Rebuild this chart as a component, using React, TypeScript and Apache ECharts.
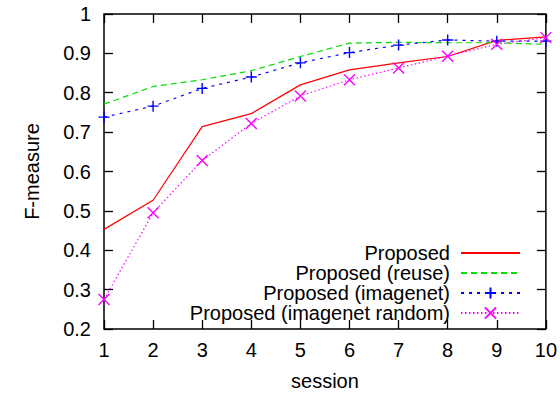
import React, { useEffect, useRef } from "react";
import * as echarts from "echarts";

const sessions = [1, 2, 3, 4, 5, 6, 7, 8, 9, 10];
const proposed = [0.453, 0.527, 0.714, 0.747, 0.82, 0.858, 0.876, 0.892, 0.933, 0.942];
const proposedReuse = [0.771, 0.816, 0.833, 0.856, 0.892, 0.926, 0.928, 0.927, 0.927, 0.923];
const proposedImagenet = [0.738, 0.766, 0.811, 0.84, 0.876, 0.902, 0.921, 0.934, 0.931, 0.931];
const proposedImagenetRandom = [0.275, 0.495, 0.628, 0.722, 0.792, 0.833, 0.863, 0.893, 0.923, 0.94];
const seriesNames = [
  "Proposed",
  "Proposed (reuse)",
  "Proposed (imagenet)",
  "Proposed (imagenet random)",
];

const FONT = "'Liberation Sans', Arial, Helvetica, sans-serif";
const FS = 20;

const PLUS = "path://M0,5L10,5M5,0L5,10";
const CROSS = "path://M0,0L10,10M10,0L0,10";
const EMPTY = "path://M0,0L10,0L10,10L0,10Z";

export default function App() {
  const ref = useRef<HTMLDivElement>(null);
  useEffect(() => {
    const chart = echarts.init(ref.current!, null, { renderer: "svg" });
    const pairs = (vals: number[]) => sessions.map((s, i) => [s, vals[i]]);
    const axisCommon = {
      type: "value" as const,
      axisLine: { show: false },
      splitLine: { show: false },
      axisTick: { show: true, inside: true, length: 9, lineStyle: { color: "#000", width: 1.3 } },
    };
    chart.setOption({
      animation: false,
      backgroundColor: "#fff",
      textStyle: { fontFamily: FONT },
      grid: {
        left: 104,
        right: 14,
        top: 14,
        bottom: 63,
        show: true,
        borderColor: "#000",
        borderWidth: 1.5,
        backgroundColor: "transparent",
      },
      xAxis: [
        {
          ...axisCommon,
          min: 1,
          max: 10,
          interval: 1,
          position: "bottom",
          name: "session",
          nameLocation: "middle",
          nameGap: 42,
          nameTextStyle: { fontFamily: FONT, fontSize: FS, color: "#000" },
          axisLabel: { fontFamily: FONT, fontSize: FS, color: "#000", margin: 11 },
        },
        {
          ...axisCommon,
          min: 1,
          max: 10,
          interval: 1,
          position: "top",
          axisLabel: { show: false },
        },
      ],
      yAxis: [
        {
          ...axisCommon,
          min: 0.2,
          max: 1,
          interval: 0.1,
          position: "left",
          name: "F-measure",
          nameLocation: "middle",
          nameGap: 62,
          nameTextStyle: { fontFamily: FONT, fontSize: FS, color: "#000" },
          axisLabel: {
            fontFamily: FONT,
            fontSize: FS,
            color: "#000",
            margin: 13,
            formatter: (v: number) => String(Math.round(v * 10) / 10),
          },
        },
        {
          ...axisCommon,
          min: 0.2,
          max: 1,
          interval: 0.1,
          position: "right",
          axisLabel: { show: false },
        },
      ],
      legend: {
        orient: "vertical",
        align: "right",
        right: 39,
        top: 243,
        padding: 0,
        itemWidth: 59,
        itemHeight: 14,
        itemGap: 0,
        data: seriesNames,
        textStyle: {
          fontFamily: FONT,
          fontSize: FS,
          color: "#000",
          lineHeight: 20,
          padding: [0, 6, 0, 0],
        },
      },
      series: [
        {
          name: seriesNames[0],
          type: "line",
          data: pairs(proposed),
          showSymbol: false,
          symbol: EMPTY,
          lineStyle: { color: "#ff0000", width: 1.2, type: "solid" },
          itemStyle: { color: "rgba(0,0,0,0)", borderColor: "rgba(0,0,0,0)", borderWidth: 0 },
        },
        {
          name: seriesNames[1],
          type: "line",
          data: pairs(proposedReuse),
          showSymbol: false,
          symbol: EMPTY,
          lineStyle: { color: "#00e000", width: 1.2, type: [6, 4] },
          itemStyle: { color: "rgba(0,0,0,0)", borderColor: "rgba(0,0,0,0)", borderWidth: 0 },
        },
        {
          name: seriesNames[2],
          type: "line",
          data: pairs(proposedImagenet),
          symbol: PLUS,
          symbolSize: 11,
          lineStyle: { color: "#0000ff", width: 1.2, type: [3, 5] },
          itemStyle: { color: "transparent", borderColor: "#0000ff", borderWidth: 1.4 },
        },
        {
          name: seriesNames[3],
          type: "line",
          data: pairs(proposedImagenetRandom),
          symbol: CROSS,
          symbolSize: 11,
          lineStyle: { color: "#ff00ff", width: 1.2, type: [1.5, 2.5] },
          itemStyle: { color: "transparent", borderColor: "#ff00ff", borderWidth: 1.4 },
        },
      ],
    });
    return () => chart.dispose();
  }, []);
  return (
    <div
      ref={ref}
      style={{ position: "fixed", left: 0, top: 0, width: 560, height: 396 }}
    />
  );
}
